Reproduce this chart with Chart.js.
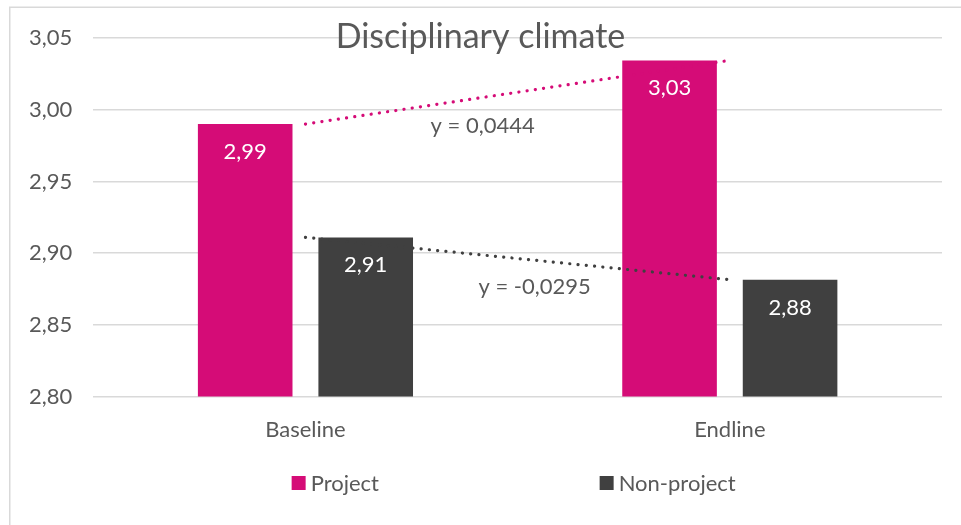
<!DOCTYPE html>
<html><head><meta charset="utf-8">
<script src="https://cdn.jsdelivr.net/npm/chart.js@4"></script>
<style>html,body{margin:0;padding:0;background:#fff}#wrap{width:961px;height:525px}</style>
</head><body><div id="wrap"><canvas id="c" width="961" height="525"></canvas></div>
<script>
const categories = ['Baseline', 'Endline'];
const seriesNames = ['Project', 'Non-project'];
const projectValues = [2.99, 3.0344];
const nonProjectValues = [2.911, 2.8815];
const trendLabels = ['y = 0,0444', 'y = -0,0295'];
const yTicks = [2.80, 2.85, 2.90, 2.95, 3.00, 3.05];
const titleText = 'Disciplinary climate';

const colors = ['#D50C77', '#404040'];
const textColor = '#595959';
const gridColor = '#D9D9D9';
const FONT = 'Lato';
const fmt = v => v.toFixed(2).replace('.', ',');

const overlay = {
  id: 'overlay',
  beforeDraw(chart) {
    const ctx = chart.ctx;
    ctx.save();
    ctx.strokeStyle = gridColor;
    ctx.lineWidth = 1.5;
    ctx.strokeRect(9.75, 7.25, 2000, 2000);
    ctx.restore();
  },
  afterDatasetsDraw(chart) {
    const ctx = chart.ctx;
    ctx.save();
    ctx.font = '22px ' + FONT;
    ctx.textAlign = 'center';
    ctx.textBaseline = 'middle';
    [0, 1].forEach(di => {
      const meta = chart.getDatasetMeta(di);
      meta.data.forEach((el, i) => {
        ctx.fillStyle = '#FFFFFF';
        ctx.fillText(fmt(chart.data.datasets[di].data[i]), el.x, el.y + 28);
      });
    });
    // trendline equation labels
    ctx.fillStyle = textColor;
    const offs = [[-35, 34], [17, 28]];
    [2, 3].forEach((di, k) => {
      const pts = chart.getDatasetMeta(di).data;
      const mx = (pts[0].x + pts[1].x) / 2;
      const my = (pts[0].y + pts[1].y) / 2;
      ctx.fillText(trendLabels[k], mx + offs[k][0], my + offs[k][1]);
    });
    ctx.restore();
  },
  afterDraw(chart) {
    const ctx = chart.ctx;
    const ca = chart.chartArea;
    ctx.save();
    ctx.fillStyle = textColor;
    ctx.font = '34px ' + FONT;
    ctx.textAlign = 'center';
    ctx.textBaseline = 'alphabetic';
    ctx.fillText(titleText, chart.width / 2, 48);
    // legend
    const cx = (ca.left + ca.right) / 2;
    const ly = 483;
    const items = [[-226, 0], [82, 1]];
    ctx.font = '22px ' + FONT;
    ctx.textAlign = 'left';
    ctx.textBaseline = 'middle';
    items.forEach(([dx, i]) => {
      ctx.fillStyle = colors[i];
      ctx.fillRect(cx + dx, ly - 7, 14, 14);
      ctx.fillStyle = textColor;
      ctx.fillText(seriesNames[i], cx + dx + 19, ly + 1);
    });
    ctx.restore();
  }
};

new Chart(document.getElementById('c'), {
  type: 'bar',
  data: {
    labels: categories,
    datasets: [
      { label: seriesNames[0], data: projectValues, backgroundColor: colors[0], categoryPercentage: 0.568, barPercentage: 0.785, order: 0 },
      { label: seriesNames[1], data: nonProjectValues, backgroundColor: colors[1], categoryPercentage: 0.568, barPercentage: 0.785, order: 0 },
      { type: 'line', label: 'trend1', data: projectValues, borderColor: colors[0], borderWidth: 3.2, borderDash: [0.1, 8.2], borderCapStyle: 'round', pointRadius: 0, fill: false, tension: 0, order: -1 },
      { type: 'line', label: 'trend2', data: nonProjectValues, borderColor: colors[1], borderWidth: 3.2, borderDash: [0.1, 8.2], borderCapStyle: 'round', pointRadius: 0, fill: false, tension: 0, order: -1 }
    ]
  },
  options: {
    responsive: false,
    animation: false,
    layout: { padding: { left: 8, right: 19, top: 38, bottom: 62 } },
    plugins: { legend: { display: false }, tooltip: { enabled: false }, title: { display: false } },
    scales: {
      x: {
        grid: { display: false, drawTicks: false },
        border: { display: false },
        ticks: { color: textColor, font: { family: FONT, size: 22 }, padding: 20 }
      },
      y: {
        min: 2.8, max: 3.05,
        afterBuildTicks: s => { s.ticks = yTicks.map(v => ({ value: v })); },
        grid: { color: gridColor, lineWidth: 1.5, drawTicks: false },
        border: { display: false },
        ticks: { color: textColor, font: { family: FONT, size: 22 }, padding: 21, callback: v => fmt(v) }
      }
    }
  },
  plugins: [overlay]
});
</script>
</body></html>
